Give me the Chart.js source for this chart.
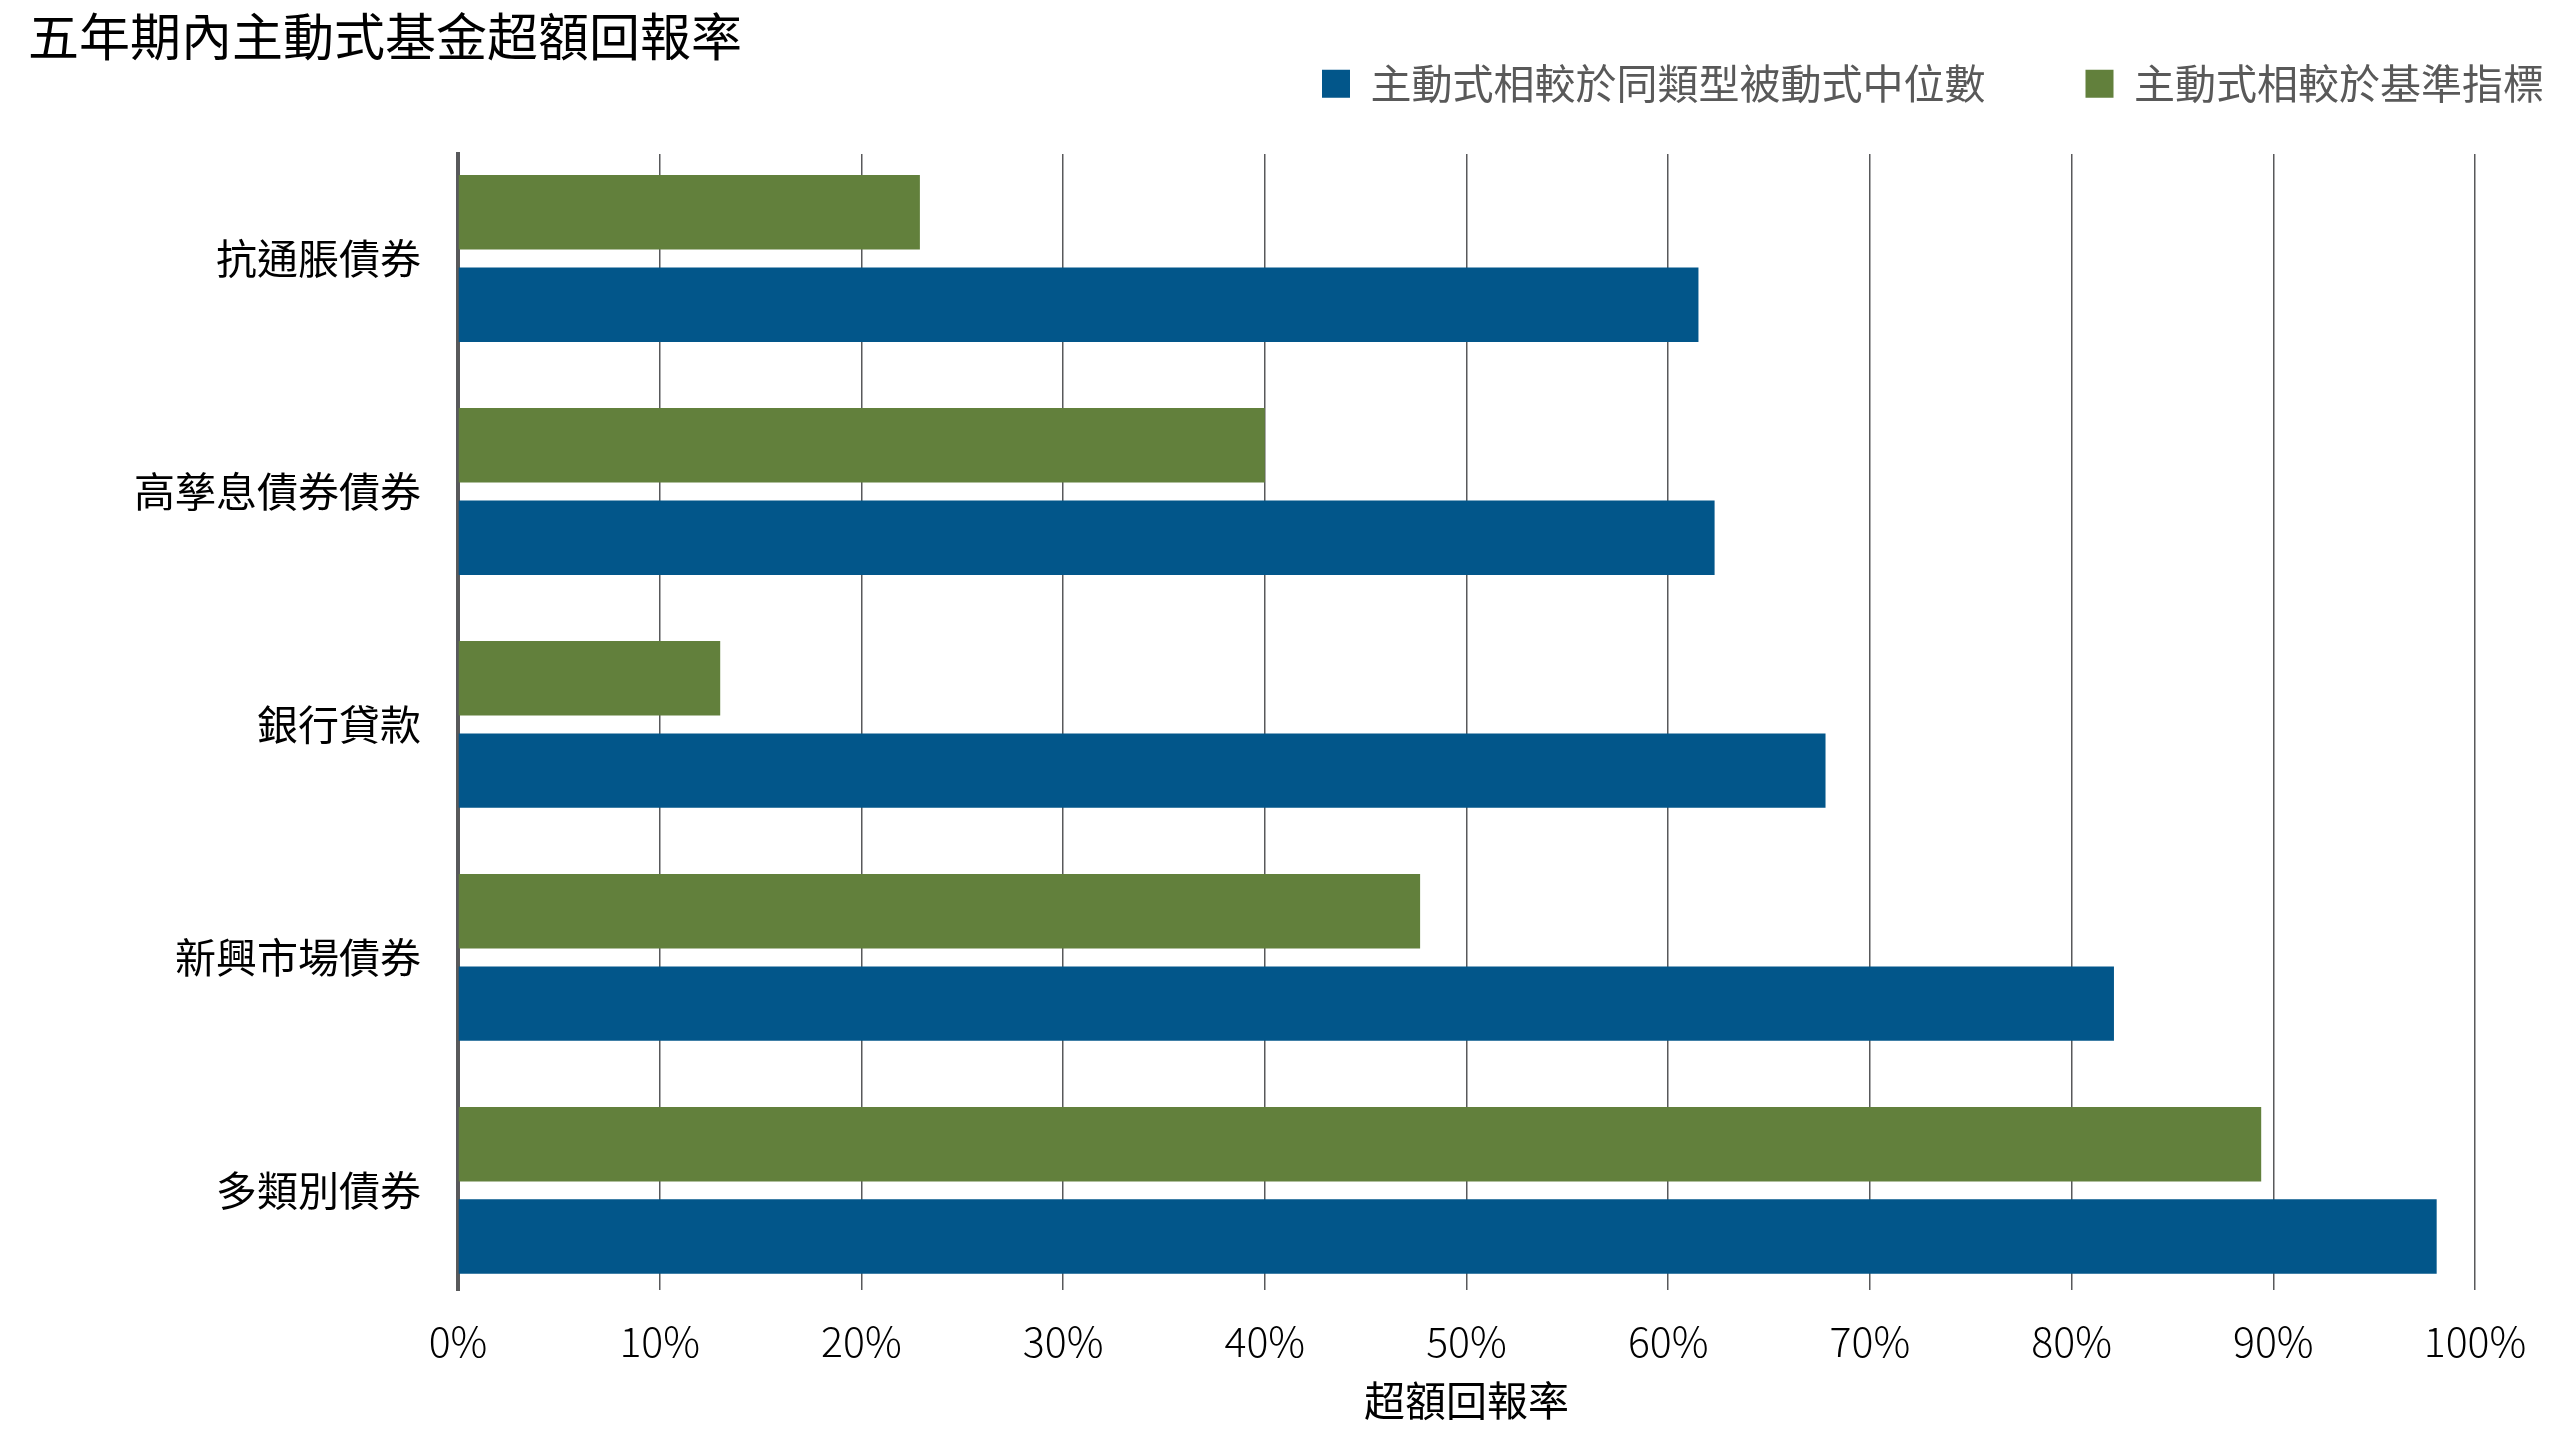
<!DOCTYPE html>
<html>
<head>
<meta charset="utf-8">
<script src="https://cdn.jsdelivr.net/npm/chart.js@4.4.1/dist/chart.umd.min.js"></script>
<style>
  html, body { margin: 0; padding: 0; background: #fff; }
  canvas { display: block; }
</style>
</head>
<body>
<canvas id="myChart" width="2560" height="1440"></canvas>
<script>
// chart data
const chartTitle = '五年期內主動式基金超額回報率';
const categories = ['抗通脹債券', '高孳息債券債券', '銀行貸款', '新興市場債券', '多類別債券'];
const seriesNames = ['主動式相較於同類型被動式中位數', '主動式相較於基準指標'];
const vsPassiveMedian = [61.5, 62.3, 67.8, 82.1, 98.1];
const vsBenchmark = [22.9, 40.0, 13.0, 47.7, 89.4];
const xTicks = [0, 10, 20, 30, 40, 50, 60, 70, 80, 90, 100];
const xTitle = '超額回報率';

const BLUE = '#02568a';
const GREEN = '#62803c';
const GRID = '#58595b';

Chart.defaults.font.family = "'Noto Sans CJK TC', 'Noto Sans', sans-serif";

// categories sit on a linear index scale so the plot box can be trimmed like the original
const toPoints = vals => vals.map((v, i) => ({x: v, y: i}));

let myBarChart = new Chart(document.getElementById('myChart'), {
  type: 'bar',
  data: {
    datasets: [
      {label: seriesNames[1], data: toPoints(vsBenchmark), backgroundColor: GREEN},
      {label: seriesNames[0], data: toPoints(vsPassiveMedian), backgroundColor: BLUE}
    ]
  },
  options: {
    indexAxis: 'y',
    responsive: false,
    animation: false,
    categoryPercentage: 0.793,
    barPercentage: 0.806,
    layout: {padding: {left: 28, right: -84, top: 3, bottom: -25}},
    plugins: {
      title: {
        display: true,
        text: chartTitle,
        align: 'start',
        color: '#000',
        font: {size: 51, weight: 'normal'},
        padding: {top: 3, bottom: -104}
      },
      legend: {
        position: 'top',
        align: 'end',
        reverse: true,
        labels: {
          boxWidth: 28,
          boxHeight: 28,
          padding: 100,
          color: '#595959',
          font: {size: 41}
        }
      },
      tooltip: {enabled: false}
    },
    scales: {
      x: {
        type: 'linear',
        min: 0,
        max: 100,
        afterBuildTicks: s => { s.ticks = xTicks.map(v => ({value: v})); },
        afterFit: s => { s.paddingRight = 85; s.height = 175; },
        grid: {color: GRID, lineWidth: 1.5, drawTicks: false},
        border: {display: false},
        ticks: {
          padding: 67,
          color: '#000',
          font: {size: 41, weight: 300},
          callback: v => v + '%'
        },
        title: {
          display: true,
          text: xTitle,
          color: '#000',
          font: {size: 41},
          padding: {top: 0, bottom: 0}
        }
      },
      y: {
        type: 'linear',
        reverse: true,
        offset: false,
        min: -0.4485,
        max: 4.4275,
        afterBuildTicks: s => { s.ticks = categories.map((c, i) => ({value: i})); },
        afterFit: s => { s.width = 430; },
        grid: {display: false, drawTicks: false},
        border: {display: true, color: GRID, width: 4},
        ticks: {
          padding: 37,
          color: '#000',
          font: {size: 41},
          callback: v => categories[v]
        }
      }
    }
  }
});
</script>
</body>
</html>
